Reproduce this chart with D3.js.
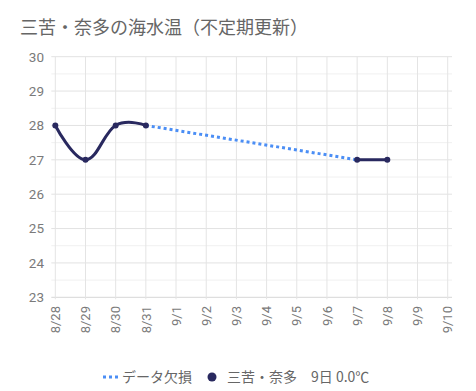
<!DOCTYPE html>
<html><head><meta charset="utf-8">
<script src="https://cdn.jsdelivr.net/npm/d3@7"></script>
<style>
html,body{margin:0;padding:0;background:#fff;}
svg{display:block;font-family:Roboto,"Noto Sans CJK JP",sans-serif;}
</style></head>
<body>
<svg id="chart" width="476" height="391"></svg>
<script>
const title = "三苦・奈多の海水温（不定期更新）";
const dates = ["8/28","8/29","8/30","8/31","9/1","9/2","9/3","9/4","9/5","9/6","9/7","9/8","9/9","9/10"];
const temps = [28,27,28,28,null,null,null,null,null,null,27,27,null,null];
const missing = [null,null,null,28,null,null,null,null,null,null,27,null,null,null];
const yTicks = [23,24,25,26,27,28,29,30];
const legendMissing = "データ欠損";
const legendSeries = "三苦・奈多　9日 0.0℃";

const svg = d3.select("#chart");
const plotL = 55.3, plotR = 447.7, plotT = 56.7, plotB = 297.3;

const x = d3.scalePoint().domain(dates).range([plotL, plotR]);
const y = d3.scaleLinear().domain([23, 30]).range([plotB, plotT]);

svg.append("text").attr("x", 20).attr("y", 34)
  .attr("font-size", 18).attr("fill", "#666")
  .attr("font-family", "'Noto Sans CJK JP',sans-serif")
  .text(title);

// minor horizontal grid
const minor = d3.range(23.5, 30, 1);
svg.append("g").selectAll("line").data(minor).join("line")
  .attr("x1", plotL - 4).attr("x2", 452)
  .attr("y1", d => y(d)).attr("y2", d => y(d))
  .attr("stroke", "#f0f0f0").attr("stroke-width", 1);

// major horizontal grid
svg.append("g").selectAll("line").data(yTicks).join("line")
  .attr("x1", plotL - 4).attr("x2", 452)
  .attr("y1", d => y(d)).attr("y2", d => y(d))
  .attr("stroke", d => d === 23 ? "#d6d6d6" : "#e2e2e2").attr("stroke-width", 1);

// vertical grid
svg.append("g").selectAll("line").data(dates).join("line")
  .attr("x1", d => x(d)).attr("x2", d => x(d))
  .attr("y1", plotT).attr("y2", plotB + 2)
  .attr("stroke", "#e4e4e4").attr("stroke-width", 1);

// y tick labels
svg.append("g").selectAll("text").data(yTicks).join("text")
  .attr("x", 44).attr("y", d => y(d)).attr("dy", "0.36em")
  .attr("text-anchor", "end").attr("font-size", 13.5).attr("fill", "#7a7a7a")
  .text(d => d);

// x tick labels
svg.append("g").selectAll("text").data(dates).join("text")
  .attr("transform", d => `translate(${x(d)},306) rotate(-90)`)
  .attr("dy", "0.36em")
  .attr("text-anchor", "end").attr("font-size", 13).attr("fill", "#7a7a7a")
  .text(d => d);

// missing-data dotted line
const lineMissing = d3.line()
  .defined(d => d[1] !== null)
  .x(d => x(d[0])).y(d => y(d[1]));
const missingPts = dates.map((d, i) => [d, missing[i]]).filter(d => d[1] !== null);
svg.append("path").attr("d", lineMissing(missingPts))
  .attr("fill", "none").attr("stroke", "#4b8ef5").attr("stroke-width", 3)
  .attr("stroke-dasharray", "3,3");

// main series
const pts = dates.map((d, i) => [d, temps[i]]);
const line = d3.line()
  .defined(d => d[1] !== null)
  .x(d => x(d[0])).y(d => y(d[1]))
  .curve(d3.curveCardinal.tension(-0.2));
const navy = "#29295f";
svg.append("path").attr("d", line(pts))
  .attr("fill", "none").attr("stroke", navy).attr("stroke-width", 3)
  .attr("stroke-linejoin", "round").attr("stroke-linecap", "round");
svg.append("g").selectAll("circle").data(pts.filter(d => d[1] !== null)).join("circle")
  .attr("cx", d => x(d[0])).attr("cy", d => y(d[1])).attr("r", 3)
  .attr("fill", navy);

// legend
const ly = 377;
svg.append("line").attr("x1", 103).attr("x2", 118).attr("y1", ly).attr("y2", ly)
  .attr("stroke", "#4b8ef5").attr("stroke-width", 3).attr("stroke-dasharray", "3,3");
svg.append("text").attr("x", 122).attr("y", ly).attr("dy", "0.36em")
  .attr("font-size", 14).attr("fill", "#666")
  .attr("font-family", "'Noto Sans CJK JP',sans-serif")
  .text(legendMissing);
svg.append("circle").attr("cx", 212).attr("cy", ly).attr("r", 4.5).attr("fill", navy);
svg.append("text").attr("x", 227).attr("y", ly).attr("dy", "0.36em")
  .attr("font-size", 14).attr("fill", "#666")
  .attr("font-family", "'Noto Sans CJK JP',sans-serif")
  .text(legendSeries);
</script>
</body></html>
